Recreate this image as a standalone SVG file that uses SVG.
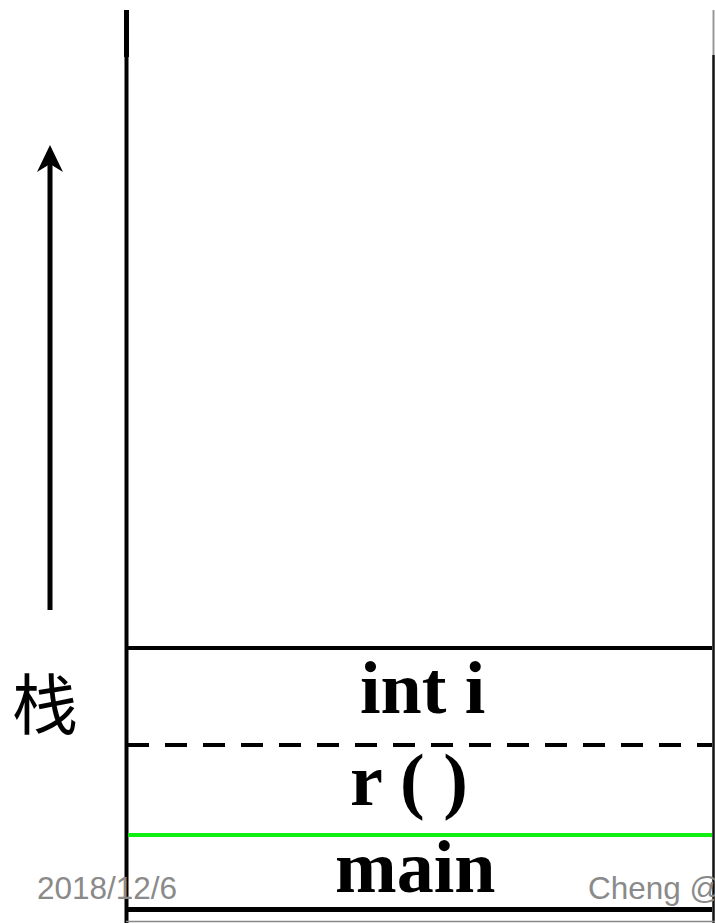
<svg xmlns="http://www.w3.org/2000/svg" width="715" height="923" viewBox="0 0 715 923">
  <style>
    .lbl { font-family: "Liberation Serif", "Times New Roman", serif; font-weight: bold; font-size: 74px; fill: #000; }
    .foot { font-family: "Liberation Sans", Arial, sans-serif; font-size: 31.5px; fill: #8a8a8a; }
    .cjk { font-family: "Noto Sans CJK SC", sans-serif; font-size: 66px; fill: #000; }
    .rule { stroke: #000; stroke-width: 4; fill: none; }
  </style>
  <defs>
    <path id="arrowhead" d="M0 0 L13 27 L0 19 L-13 27 Z" fill="#000"/>
  </defs>
  <rect width="715" height="923" fill="#fff"/>

  <g id="stack-frame">
    <line x1="126.5" y1="10" x2="126.5" y2="923" stroke="#000" stroke-width="4"/>
    <rect x="124" y="10" width="5" height="47" fill="#000"/>
    <line x1="713.5" y1="10" x2="713.5" y2="55" stroke="#999" stroke-width="2"/>
    <line x1="713.5" y1="55" x2="713.5" y2="923" stroke="#111" stroke-width="2.5"/>
    <line x1="126" y1="921.5" x2="715" y2="921.5" stroke="#888" stroke-width="1.5"/>
  </g>

  <g id="connectors">
    <line x1="50" y1="610" x2="50" y2="162" stroke="#000" stroke-width="5"/>
    <use href="#arrowhead" x="50" y="145"/>
  </g>

  <g id="dividers">
    <line class="rule" x1="126" y1="648" x2="712" y2="648"/>
    <line class="rule" x1="127" y1="745" x2="712" y2="745" stroke-dasharray="22 16"/>
    <line x1="128" y1="835" x2="712" y2="835" stroke="#11ee11" stroke-width="4"/>
    <line x1="126" y1="909.5" x2="712" y2="909.5" stroke="#000" stroke-width="5"/>
  </g>

  <g id="stack-label">
    <text class="cjk" x="12" y="729">栈</text>
  </g>

  <g id="frame-int-i">
    <text class="lbl" x="360" y="713">int i</text>
  </g>
  <g id="frame-r">
    <text class="lbl" x="350" y="805">r ( )</text>
  </g>
  <g id="frame-main">
    <text class="lbl" x="335" y="892">main</text>
  </g>

  <g id="footer">
    <text class="foot" x="37" y="899">2018/12/6</text>
    <text class="foot" x="588" y="899">Cheng @</text>
  </g>
</svg>
